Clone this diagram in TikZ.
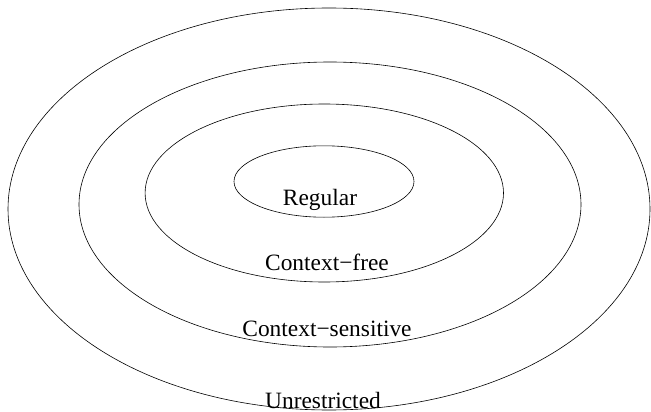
\documentclass[tikz,border=0pt]{standalone}
\usepackage{fontspec}
\setmainfont{Liberation Serif}
\usepackage{xcolor}

\tikzset{
  ring/.style={line width=0.6pt},
  lang/.style={anchor=base, inner sep=0pt, font=\fontsize{23.4}{28}\selectfont}
}

\begin{document}
\begin{tikzpicture}[x=1pt, y=-1pt]
\useasboundingbox (0,0) rectangle (651,412);
\draw[ring] (329,209) ellipse (321 and 201);
\draw[ring] (330,204.5) ellipse (251 and 142.5);
\draw[ring] (324.3,193) ellipse (179.2 and 89);
\draw[ring] (324,181.5) ellipse (90 and 35.7);
\node[lang] (reg) at (320,205) {Regular};
\node[lang] (cf) at (327,270.7) {Context−free};
\node[lang] (cs) at (327,336) {Context−sensitive};
\node[lang] (unr) at (323,408) {Unrestricted};
\end{tikzpicture}
\end{document}
